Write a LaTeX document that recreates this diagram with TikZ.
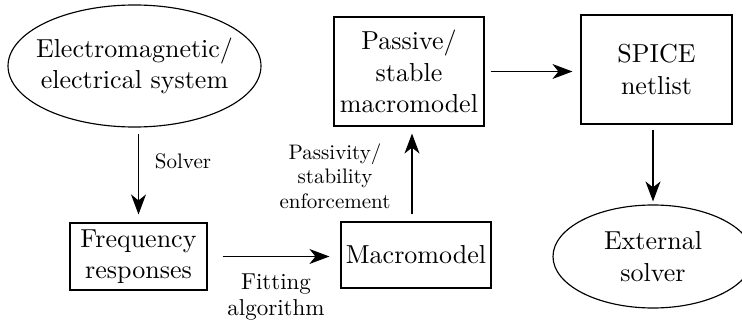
\documentclass[tikz,border=0pt]{standalone}
\usepackage{fontspec}
\setmainfont{lmroman10-regular.otf}
\usetikzlibrary{arrows.meta,shapes.geometric}
\tikzset{
  mainf/.style={font=\fontsize{26}{31.5}\selectfont},
  box/.style={draw, rectangle, mainf, align=center, inner sep=0pt, line width=1.15pt},
  oval/.style={draw, ellipse, mainf, align=center, inner sep=0pt, line width=1.15pt},
  arr/.style={-{Stealth[length=20pt,width=15pt,inset=6pt]}, line width=1.15pt},
  lab/.style={font=\fontsize{21}{24.5}\selectfont, align=center},
  biglab/.style={font=\fontsize{23}{26}\selectfont, align=center},
}
\begin{document}
\begin{tikzpicture}[x=1pt,y=-1pt]
\useasboundingbox (0,0) rectangle (742,321);
\node[oval, inner xsep=-9pt, minimum width=245, minimum height=122] (ems) at (134.5,66) {Electromagnetic/\\electrical system};
\node[box, minimum width=137, minimum height=67] (fr) at (138.5,256.5) {Frequency\\responses};
\node[box, minimum width=150, minimum height=66] (mm) at (416,255) {Macromodel};
\node[box, minimum width=150, minimum height=109] (pm) at (409,71.5) {Passive/\\stable\\macromodel};
\node[box, minimum width=151, minimum height=109] (sp) at (656.5,69.5) {SPICE\\netlist};
\node[oval, minimum width=200, minimum height=103] (ext) at (653,256.5) {External\\solver};

\node[lab] (solver) at (183,161.5) {Solver};
\node[lab] (pass) at (335,176) {Passivity/\\stability\\enforcement};
\node[biglab] (fit) at (276,297) {Fitting\\algorithm};

\draw[arr, shorten <=6pt, shorten >=8pt] (ems.south -| fr.north) -- (fr.north);
\draw[arr, shorten <=15pt, shorten >=11pt] (fr.east) -- (fr.east -| mm.west);
\path ([xshift=-4pt]mm.north) coordinate (mmt);
\draw[arr, shorten <=7pt, shorten >=7pt] (mmt) -- (mmt |- pm.south);
\draw[arr, shorten <=6pt, shorten >=8pt] (pm.east) -- (pm.east -| sp.west);
\draw[arr, shorten <=5pt, shorten >=3pt] (sp.south -| ext.north) -- (ext.north);
\end{tikzpicture}
\end{document}
